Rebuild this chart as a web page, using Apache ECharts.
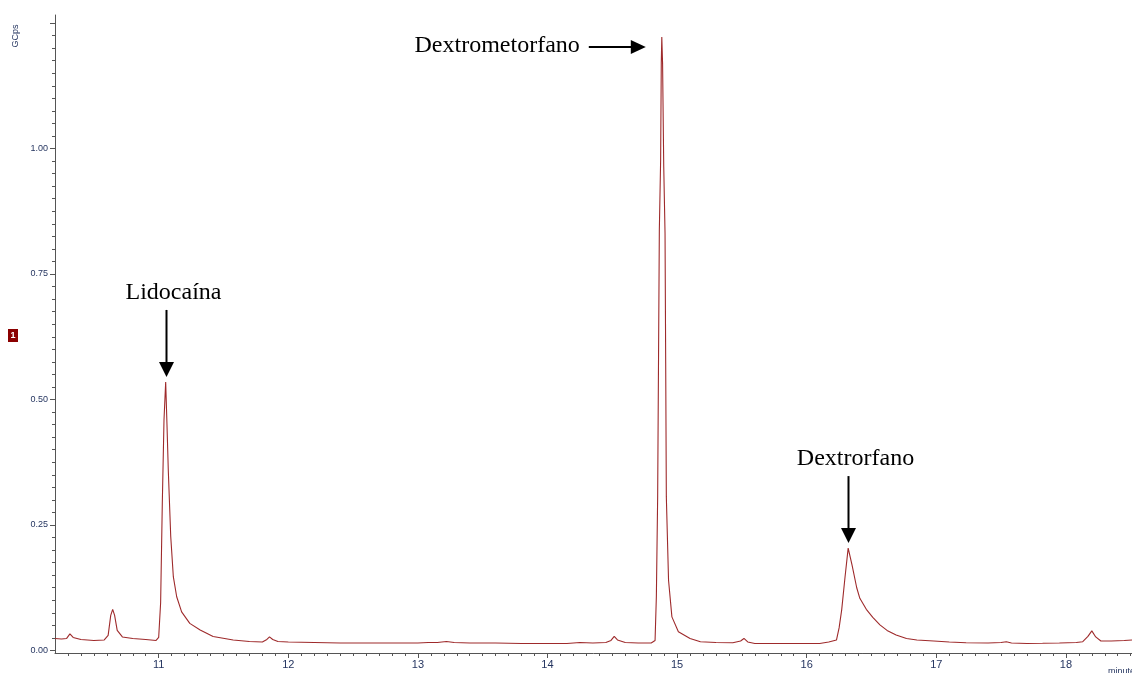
<!DOCTYPE html>
<html><head><meta charset="utf-8">
<script src="https://cdn.jsdelivr.net/npm/echarts@6/dist/echarts.min.js"></script>
<style>html,body{margin:0;padding:0;background:#fff;overflow:hidden}#c{width:1132px;height:673px}</style>
</head><body><div id="c"></div>
<script>
// retention time (minutes)
const time = [
 10.20,10.25,10.29,10.315,10.34,10.40,10.50,10.58,10.61,10.63,10.645,10.66,10.68,10.72,10.80,10.90,10.98,
 11.00,11.015,11.028,11.041,11.054,11.064,11.074,11.093,11.113,11.139,11.177,11.24,11.32,11.42,11.575,11.70,11.80,
 11.835,11.855,11.88,11.92,12.0,12.2,12.4,12.6,12.8,13.0,13.08,13.15,13.22,13.28,13.4,13.6,13.8,14.0,14.15,14.25,
 14.35,14.45,14.49,14.515,14.54,14.60,14.70,14.80,14.83,14.84,14.85,14.863,14.873,14.878,14.882,14.888,14.897,
 14.907,14.912,14.917,14.934,14.96,15.01,15.10,15.18,15.30,15.43,15.49,15.516,15.545,15.6,15.8,16.0,16.1,16.17,
 16.23,16.25,16.27,16.296,16.32,16.35,16.386,16.41,16.46,16.51,16.565,16.62,16.69,16.77,16.85,16.98,17.1,17.23,
 17.40,17.50,17.54,17.58,17.7,17.82,17.95,18.08,18.13,18.17,18.20,18.23,18.27,18.35,18.45,18.51
];
// signal (GCps)
const signal = [
 0.024,0.023,0.024,0.033,0.026,0.022,0.020,0.021,0.030,0.070,0.082,0.070,0.040,0.027,0.024,0.022,0.020,
 0.026,0.095,0.294,0.459,0.535,0.45,0.36,0.227,0.147,0.107,0.077,0.054,0.041,0.028,0.021,0.018,0.017,
 0.022,0.027,0.022,0.018,0.017,0.016,0.015,0.015,0.015,0.015,0.016,0.016,0.018,0.016,0.015,0.015,0.014,0.014,0.014,0.016,
 0.015,0.016,0.020,0.028,0.021,0.016,0.015,0.015,0.020,0.107,0.306,0.838,0.977,1.17,1.222,1.17,0.963,
 0.83,0.573,0.306,0.14,0.067,0.0375,0.024,0.0175,0.016,0.0155,0.019,0.024,0.017,0.014,0.014,0.014,0.014,0.017,
 0.021,0.045,0.081,0.147,0.204,0.17,0.125,0.104,0.082,0.066,0.051,0.040,0.031,0.024,0.021,0.019,0.017,0.0155,
 0.015,0.016,0.0175,0.015,0.014,0.0143,0.015,0.016,0.0175,0.028,0.039,0.027,0.019,0.019,0.020,0.021
];
const xTickLabels = [11,12,13,14,15,16,17,18];
const yTickLabels = [0,0.25,0.5,0.75,1.0];
const yMajorTicks = [0,0.25,0.5,0.75,1.0,1.25];
const annotations = [
  {label:'Lidocaína', t:11.054, side:'top'},
  {label:'Dextrometorfano', t:14.882, side:'left'},
  {label:'Dextrorfano', t:16.32, side:'top'}
];

const xMinor = [];
for (let i = 103; i <= 185; i++) { if (i % 10 !== 0) xMinor.push(i / 10); }
const yMinor = [];
for (let i = 1; i <= 50; i++) { if (i % 10 !== 0) yMinor.push(i * 0.025); }

const lineColor = '#9e2a2b';
const axisColor = '#555';
const labelColor = '#253560';
const X_MIN = 10.2, X_MAX = 18.51, Y_MIN = -0.005, Y_MAX = 1.266;

const chart = echarts.init(document.getElementById('c'), null, {renderer:'canvas'});
const data = time.map((t, i) => [t, signal[i]]);

chart.setOption({
  animation: false,
  backgroundColor: '#fff',
  grid: {left: 55, right: 0, top: 15, bottom: 20, containLabel: false},
  xAxis: [
    {type:'value', min:X_MIN, max:X_MAX, position:'bottom',
     axisLine:{show:true, onZero:false, lineStyle:{color:axisColor, width:1}},
     axisTick:{show:true, length:5, customValues:xTickLabels, lineStyle:{color:axisColor}},
     axisLabel:{show:true, customValues:xTickLabels, fontSize:11, color:labelColor, margin:6, fontFamily:'Liberation Sans, Arial, sans-serif'},
     splitLine:{show:false}},
    {type:'value', min:X_MIN, max:X_MAX, position:'bottom',
     axisLine:{show:false, onZero:false},
     axisTick:{show:true, length:3, customValues:xMinor, lineStyle:{color:axisColor}},
     axisLabel:{show:false}, splitLine:{show:false}}
  ],
  yAxis: [
    {type:'value', min:Y_MIN, max:Y_MAX, position:'left',
     axisLine:{show:true, onZero:false, lineStyle:{color:axisColor, width:1}},
     axisTick:{show:true, length:5, customValues:yMajorTicks, lineStyle:{color:axisColor}},
     axisLabel:{show:true, customValues:yTickLabels, fontSize:9, color:labelColor, margin:7,
       fontFamily:'Liberation Sans, Arial, sans-serif', formatter: v => v.toFixed(2)},
     splitLine:{show:false}},
    {type:'value', min:Y_MIN, max:Y_MAX, position:'left',
     axisLine:{show:false, onZero:false},
     axisTick:{show:true, length:3, customValues:yMinor, lineStyle:{color:axisColor}},
     axisLabel:{show:false}, splitLine:{show:false}}
  ],
  series: [{
    type:'line', xAxisIndex:0, yAxisIndex:0, data:data, showSymbol:false, symbol:'none',
    lineStyle:{color:lineColor, width:1.1}, smooth:false
  }]
});

const serif = 'Liberation Serif, "Times New Roman", serif';
const graphics = [
  {type:'text', x:16, y:36, rotation:Math.PI/2, style:{text:'GCps', fill:labelColor, font:'9px "Liberation Sans", Arial, sans-serif', textAlign:'center', textVerticalAlign:'middle'}},
  {type:'rect', shape:{x:8, y:329, width:10, height:13}, style:{fill:'#8b0000'}},
  {type:'text', x:13, y:335.5, style:{text:'1', fill:'#fff', font:'bold 9px "Liberation Sans", Arial, sans-serif', textAlign:'center', textVerticalAlign:'middle'}},
  {type:'text', x:1108, y:667, style:{text:'minutes', fill:labelColor, font:'9px "Liberation Sans", Arial, sans-serif', textAlign:'left', textVerticalAlign:'top'}}
];

annotations.forEach(a => {
  const idx = time.indexOf(a.t);
  const p = chart.convertToPixel({xAxisIndex:0, yAxisIndex:0}, [a.t, signal[idx]]);
  if (a.side === 'top') {
    const tip = p[1] - 5, x = Math.round(p[0]) + 0.5;
    graphics.push({type:'line', shape:{x1:x, y1:tip - 67, x2:x, y2:tip - 13}, style:{stroke:'#000', lineWidth:2}});
    graphics.push({type:'polygon', shape:{points:[[x - 7.5, tip - 15], [x + 7.5, tip - 15], [x, tip]]}, style:{fill:'#000'}});
    graphics.push({type:'text', x:x + 7, y:tip - 84, style:{text:a.label, fill:'#000', font:'24px ' + serif, textAlign:'center', textVerticalAlign:'middle'}});
  } else {
    const tip = p[0] - 16, y = p[1] + 10;
    graphics.push({type:'line', shape:{x1:tip - 57, y1:y, x2:tip - 13, y2:y}, style:{stroke:'#000', lineWidth:2}});
    graphics.push({type:'polygon', shape:{points:[[tip - 15, y - 7], [tip - 15, y + 7], [tip, y]]}, style:{fill:'#000'}});
    graphics.push({type:'text', x:tip - 66, y:y - 1, style:{text:a.label, fill:'#000', font:'24px ' + serif, textAlign:'right', textVerticalAlign:'middle'}});
  }
});
chart.setOption({graphic: graphics});
</script>
</body></html>
